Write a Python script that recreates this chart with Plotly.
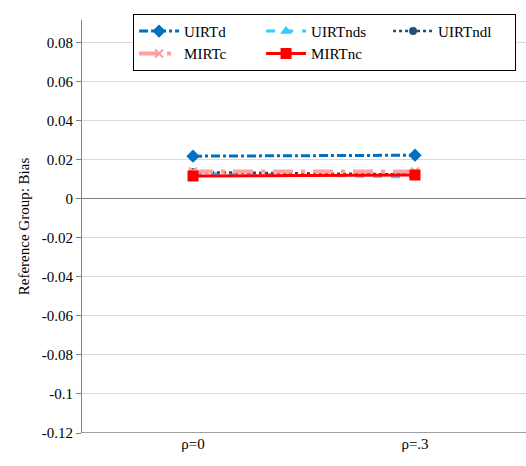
import plotly.graph_objects as go

categories = ["ρ=0", "ρ=.3"]
uirtd = [0.0219, 0.0224]
uirtnds = [0.0132, 0.0112]
uirtndl = [0.0137, 0.0125]
mirtc = [0.0140, 0.0140]
mirtnc = [0.0117, 0.0122]

series = [
    ("UIRTd", uirtd, "#0070C0", "dashdot", "diamond", 8, 3),
    ("UIRTnds", uirtnds, "#33CCFF", "dash", "triangle-up", 7, 3),
    ("UIRTndl", uirtndl, "#1F4E79", "dot", "circle", 6, 2.5),
    ("MIRTc", mirtc, "#FF9F9F", "longdashdot", "x-thin-open", 8, 4),
    ("MIRTnc", mirtnc, "#FF0000", "solid", "square", 9, 3),
]

FONT = "'Liberation Serif', 'Times New Roman', Times, serif"

fig = go.Figure()
for name, vals, color, dash, sym, msize, lw in series:
    fig.add_trace(go.Scatter(
        x=categories, y=vals, name=name, mode="lines+markers",
        line=dict(color=color, dash=dash, width=lw),
        marker=dict(symbol=sym, size=msize, color=color,
                    line=dict(color=color, width=2)),
    ))

fig.update_layout(
    width=526, height=466,
    margin=dict(l=82, r=0, t=20, b=33),
    paper_bgcolor="white", plot_bgcolor="white",
    font=dict(family=FONT, size=14, color="#000000"),
    showlegend=True,
    legend=dict(
        orientation="h", x=0.115, y=1.015, xanchor="left", yanchor="top",
        entrywidth=72, entrywidthmode="pixels",
        bordercolor="#000000", borderwidth=1, bgcolor="white",
        font=dict(family=FONT, size=15),
        tracegroupgap=0, itemwidth=40,
    ),
    xaxis=dict(
        type="category", range=[-0.5, 1.5],
        showgrid=False, showline=False, ticks="",
        tickfont=dict(family=FONT, size=15),
    ),
    yaxis=dict(
        range=[-0.12, 0.0917],
        tickvals=[-0.12, -0.1, -0.08, -0.06, -0.04, -0.02, 0, 0.02, 0.04, 0.06, 0.08],
        ticktext=["-0.12", "-0.1", "-0.08", "-0.06", "-0.04", "-0.02", "0", "0.02", "0.04", "0.06", "0.08"],
        showgrid=True, gridcolor="#D9D9D9", gridwidth=1,
        zeroline=True, zerolinecolor="#808080", zerolinewidth=1,
        showline=True, linecolor="#808080", linewidth=1,
        ticks="outside", ticklen=5, tickcolor="#808080",
        title=dict(text="Reference Group: Bias", font=dict(family=FONT, size=15), standoff=8),
        tickfont=dict(family=FONT, size=15),
    ),
)
fig.add_shape(type="line", xref="paper", yref="y", x0=0, x1=1, y0=-0.12, y1=-0.12,
              line=dict(color="#808080", width=1.5))

fig.write_html("out.html")
